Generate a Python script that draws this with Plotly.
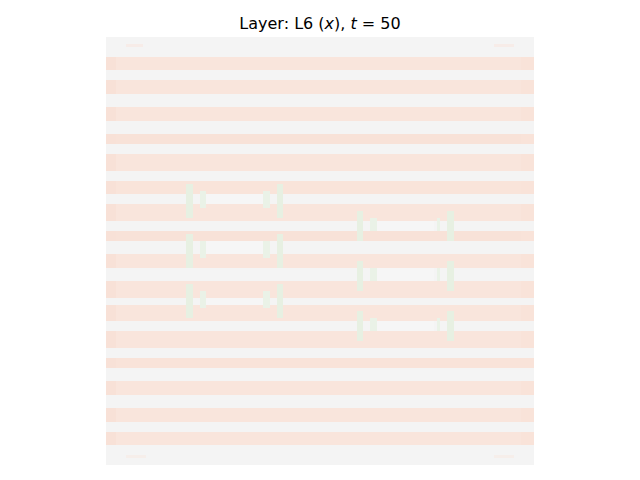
import numpy as np
import plotly.graph_objects as go

# ---- data (map coordinates, 64 x 64 map units) ----
MAP_SIZE = 64
SAMPLES_PER_UNIT = 2

# horizontal positive stripes
stripe_top = [2.99, 6.28, 10.32, 14.36, 17.64, 21.68, 25.12, 29.16,
              32.60, 36.64, 39.93, 43.96, 48.00, 51.44, 55.48, 59.07]
stripe_bottom = [5.08, 8.52, 12.56, 16.00, 19.89, 23.48, 27.36, 30.65,
                 34.69, 38.88, 42.32, 46.36, 49.64, 53.53, 57.72, 61.16]
stripe_value = [0.50, 0.50, 0.50, 0.55, 0.50, 0.52, 0.50, 0.55,
                0.50, 0.50, 0.50, 0.50, 0.54, 0.50, 0.50, 0.50]

# slightly stronger response near left/right border (x0, x1, value)
edge_x0 = [0.0, 62.0]
edge_x1 = [1.5, 64.0]
edge_value = [0.56, 0.54]

# faint short dashes at top / bottom border
dash_x0 = [2.84, 58.17, 2.84, 58.17]
dash_x1 = [5.53, 61.16, 5.83, 60.86]
dash_y0 = [1.1, 1.1, 62.4, 62.4]
dash_y1 = [1.6, 1.6, 62.9, 62.9]
dash_value = [0.26, 0.26, 0.2, 0.2]

# slightly brighter gaps between bracket pairs
hl_x0 = [14.9, 14.9, 14.9, 40.5, 40.5, 40.5]
hl_x1 = [23.5, 23.5, 23.5, 49.2, 49.2, 49.2]
hl_y0 = [23.48, 30.65, 38.88, 27.36, 34.69, 42.32]
hl_y1 = [25.12, 32.60, 39.93, 29.16, 36.64, 43.96]
hl_value = [-0.07] * 6

# negative bracket marks
mark_x0 = [11.96, 14.20, 23.60, 25.57] * 3 + [37.68, 39.60, 49.30, 50.99] * 3
mark_x1 = [13.16, 14.80, 24.40, 26.32] * 3 + [38.73, 40.40, 50.10, 51.89] * 3
mark_y0 = [22.13, 23.18, 23.18, 22.13,
           29.61, 30.65, 30.65, 29.61,
           37.08, 38.13, 38.13, 37.08,
           26.17, 27.07, 27.07, 26.17,
           33.64, 34.54, 34.54, 33.64,
           41.12, 42.02, 42.02, 41.12]
mark_y1 = [26.92, 25.57, 25.57, 26.92,
           34.39, 33.05, 33.05, 34.39,
           41.87, 40.52, 40.52, 41.87,
           30.65, 29.16, 29.16, 30.65,
           37.83, 36.64, 36.64, 37.83,
           45.31, 44.11, 44.11, 45.31]
mark_value = [-0.45, -0.38, -0.38, -0.45] * 6

# ---- build the map ----
n = MAP_SIZE * SAMPLES_PER_UNIT
centers = (np.arange(n) + 0.5) / SAMPLES_PER_UNIT
X, Y = np.meshgrid(centers, centers)
z = np.zeros((n, n))
stripe_mask = np.zeros((n, n), dtype=bool)
for t, b, v in zip(stripe_top, stripe_bottom, stripe_value):
    m = (Y >= t) & (Y < b)
    z[m] = v
    stripe_mask |= m
for x0, x1, v in zip(edge_x0, edge_x1, edge_value):
    z[(X >= x0) & (X < x1) & stripe_mask] = v
for x0, x1, y0, y1, v in zip(dash_x0, dash_x1, dash_y0, dash_y1, dash_value):
    z[(X >= x0) & (X < x1) & (Y >= y0) & (Y < y1)] = v
for x0, x1, y0, y1, v in zip(hl_x0, hl_x1, hl_y0, hl_y1, hl_value):
    z[(X >= x0) & (X < x1) & (Y >= y0) & (Y < y1)] = v
for x0, x1, y0, y1, v in zip(mark_x0, mark_x1, mark_y0, mark_y1, mark_value):
    z[(X >= x0) & (X < x1) & (Y >= y0) & (Y < y1)] = v

colorscale = [
    [0.0, "#c9e3bf"],
    [0.2, "#dfedd8"],
    [0.43, "#f7f7f7"],
    [0.5, "#f4f4f4"],
    [0.75, "#f9e5dc"],
    [1.0, "#f3c7b3"],
]

fig = go.Figure(
    go.Heatmap(
        z=z,
        x0=0.5 / SAMPLES_PER_UNIT, dx=1 / SAMPLES_PER_UNIT,
        y0=0.5 / SAMPLES_PER_UNIT, dy=1 / SAMPLES_PER_UNIT,
        zmin=-1, zmax=1,
        colorscale=colorscale,
        zsmooth=False,
        showscale=False,
        hoverinfo="skip",
    )
)

fig.update_layout(
    width=640, height=480,
    margin=dict(l=106, r=106, t=37, b=15),
    paper_bgcolor="white", plot_bgcolor="white",
    title=dict(
        text="Layer: L6 (<i>x</i>), <i>t</i> = 50",
        x=0.5, xanchor="center", xref="paper",
        y=1 - 23 / 480, yanchor="middle", yref="container",
        font=dict(family="DejaVu Sans", size=16, color="black"),
    ),
    xaxis=dict(range=[0, MAP_SIZE], visible=False, fixedrange=True),
    yaxis=dict(range=[MAP_SIZE, 0], visible=False, fixedrange=True),
)

fig.write_html("out.html")
